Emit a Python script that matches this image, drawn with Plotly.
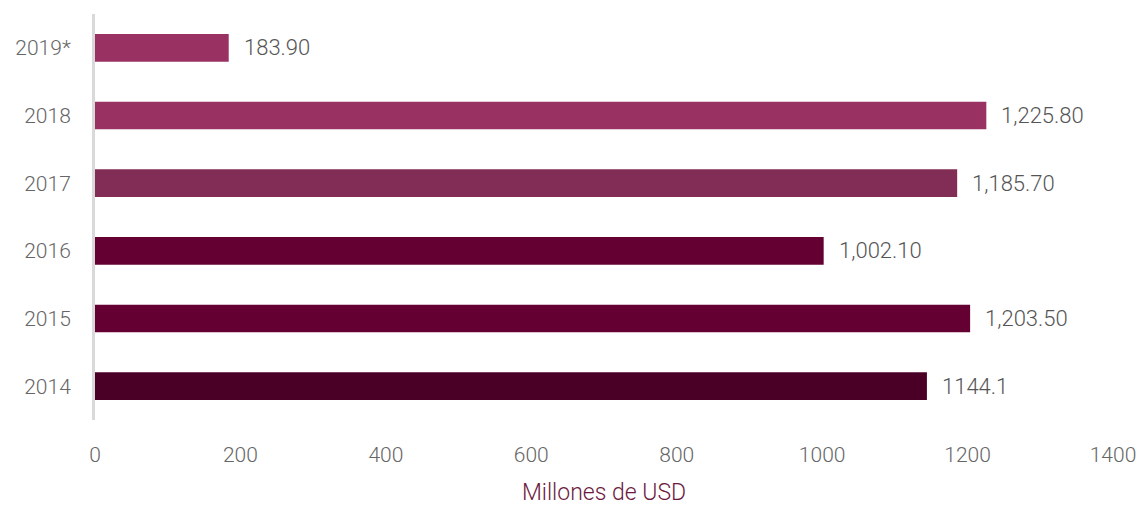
import plotly.graph_objects as go

years = ["2014", "2015", "2016", "2017", "2018", "2019*"]
values = [1144.1, 1203.5, 1002.1, 1185.7, 1225.8, 183.9]
labels = ["1144.1", "1,203.50", "1,002.10", "1,185.70", "1,225.80", "183.90"]
colors = ["#4a0026", "#640032", "#640032", "#822d55", "#993262", "#993262"]
x_ticks = [0, 200, 400, 600, 800, 1000, 1200, 1400]

FONT = "Roboto"
pos = list(range(len(years)))

fig = go.Figure()
fig.add_trace(go.Bar(
    y=pos, x=values, orientation="h",
    marker=dict(color=colors, line=dict(width=0)),
    width=0.41,
    hoverinfo="skip",
))

for p, v, t in zip(pos, values, labels):
    fig.add_annotation(x=v, y=p, text=t, showarrow=False, xanchor="left",
                       xshift=13, yshift=0,
                       font=dict(family=FONT, size=22, color="#555555", weight=300))

fig.update_layout(
    width=1138, height=506,
    margin=dict(l=95, r=25, t=14, b=86),
    plot_bgcolor="white", paper_bgcolor="white",
    showlegend=False,
    font=dict(family=FONT, color="#666666", weight=300),
    xaxis=dict(range=[0, 1400], tickvals=x_ticks, showgrid=False, zeroline=False,
               showline=False, ticks="", ticklabelstandoff=20, automargin=False,
               tickfont=dict(family=FONT, size=21, color="#666666", weight=300),
               title=dict(text="Millones de USD", standoff=19,
                          font=dict(family=FONT, size=23, color="#6d1a40", weight=300))),
    yaxis=dict(range=[-0.5, len(years) - 0.5], tickvals=pos, ticktext=years, showgrid=False,
               zeroline=False, showline=True, linecolor="#d9d9d9", linewidth=3,
               ticks="", ticklabelstandoff=17, automargin=False,
               tickfont=dict(family=FONT, size=21, color="#666666", weight=300)),
)

fig.write_html("out.html")
